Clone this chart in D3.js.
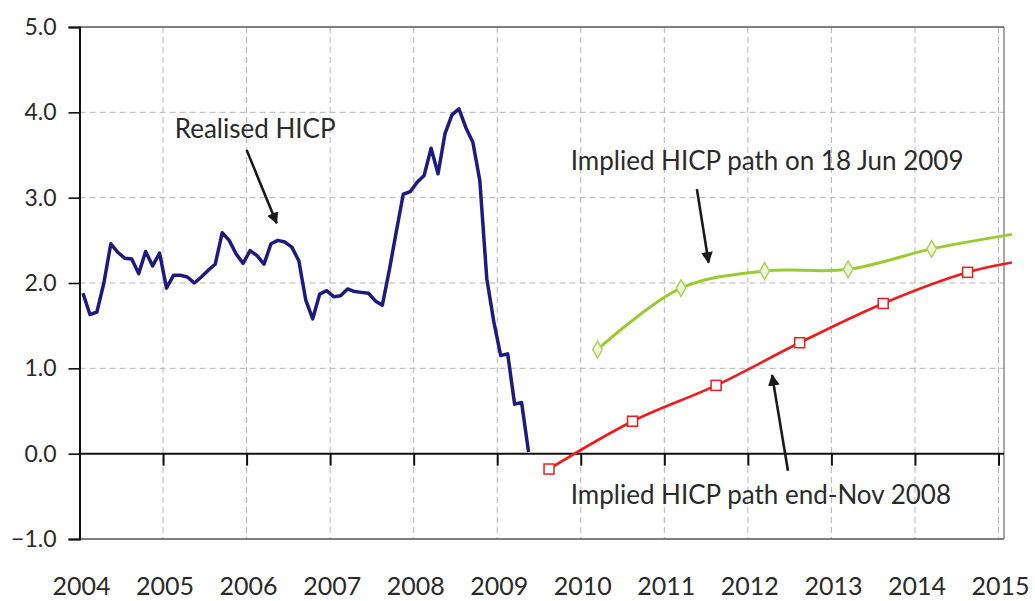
<!DOCTYPE html>
<html>
<head>
<meta charset="utf-8">
<script src="https://cdn.jsdelivr.net/npm/d3@7"></script>
<style>
  html, body { margin: 0; padding: 0; background: #fff; }
  svg { display: block; }
  text { font-family: Lato, "Open Sans", sans-serif; fill: #2a2a2a; }
</style>
</head>
<body>
<svg id="chart" width="1035" height="601"></svg>
<script>
// ---- Data ----
// Realised HICP, monthly from Jan 2004 (year-on-year %)
const realisedStart = 2004;
const realisedValues = [
  1.88, 1.63, 1.66, 2.00, 2.46, 2.36, 2.29, 2.28, 2.11, 2.37, 2.20, 2.35,
  1.94, 2.09, 2.09, 2.07, 2.00, 2.07, 2.15, 2.22, 2.59, 2.50, 2.34, 2.23,
  2.38, 2.32, 2.22, 2.46, 2.50, 2.48, 2.42, 2.26, 1.80, 1.58, 1.87, 1.91,
  1.84, 1.85, 1.93, 1.90, 1.89, 1.88, 1.79, 1.74, 2.15, 2.60, 3.04, 3.07,
  3.18, 3.26, 3.58, 3.28, 3.75, 3.97, 4.04, 3.82, 3.65, 3.20, 2.05, 1.55,
  1.15, 1.17, 0.58, 0.60, 0.02
];
// Implied HICP path on 18 Jun 2009
const june09Years  = [2010.2, 2011.2, 2012.2, 2013.2, 2014.2, 2015.16];
const june09Values = [1.22, 1.94, 2.14, 2.16, 2.40, 2.57];
// Implied HICP path end-Nov 2008
const nov08Years  = [2009.62, 2010.62, 2011.62, 2012.62, 2013.62, 2014.63, 2015.16];
const nov08Values = [-0.18, 0.38, 0.80, 1.30, 1.76, 2.125, 2.24];

const yearTicks = [2004, 2005, 2006, 2007, 2008, 2009, 2010, 2011, 2012, 2013, 2014, 2015];
const valueTicks = [-1, 0, 1, 2, 3, 4, 5];

// Annotations (data coordinates)
const annotations = [
  { text: "Realised HICP", tx: 2005.14, ty: 3.70, ax1: 2006.0, ay1: 3.56, ax2: 2006.36, ay2: 2.70 },
  { text: "Implied HICP path on 18 Jun 2009", tx: 2009.88, ty: 3.33, ax1: 2011.39, ay1: 3.10, ax2: 2011.53, ay2: 2.24 },
  { text: "Implied HICP path end-Nov 2008", tx: 2009.88, ty: -0.59, ax1: 2012.48, ay1: -0.20, ax2: 2012.29, ay2: 0.92 }
];

// ---- Chart ----
const svg = d3.select("#chart");
const x = d3.scaleLinear().domain([2004, 2015]).range([79.5, 998.5]);
const y = d3.scaleLinear().domain([-1, 5]).range([539, 27]);
const rightEdge = 1004;

// gridlines
const grid = svg.append("g");
grid.selectAll("line.vg").data(yearTicks.slice(1)).join("line")
  .attr("x1", d => x(d)).attr("x2", d => x(d))
  .attr("y1", y(5)).attr("y2", y(-1))
  .attr("stroke", "#b4b4b4").attr("stroke-width", 1).attr("stroke-dasharray", "6,4");
grid.selectAll("line.hg").data([1, 2, 3, 4]).join("line")
  .attr("x1", x(2004)).attr("x2", rightEdge)
  .attr("y1", d => y(d)).attr("y2", d => y(d))
  .attr("stroke", "#b4b4b4").attr("stroke-width", 1).attr("stroke-dasharray", "6,4");

// frame
svg.append("line").attr("x1", x(2004)).attr("x2", rightEdge).attr("y1", y(5)).attr("y2", y(5))
  .attr("stroke", "#555").attr("stroke-width", 1.3);
svg.append("line").attr("x1", x(2004)).attr("x2", rightEdge).attr("y1", y(-1)).attr("y2", y(-1))
  .attr("stroke", "#555").attr("stroke-width", 1.3);
svg.append("line").attr("x1", rightEdge).attr("x2", rightEdge).attr("y1", y(5)).attr("y2", y(-1))
  .attr("stroke", "#777").attr("stroke-width", 1.3);

// y axis
const yAxis = d3.axisLeft(y).tickValues(valueTicks).tickFormat(d3.format(".1f")).tickSize(11).tickPadding(12);
const gy = svg.append("g").attr("transform", `translate(${x(2004)},0)`).call(yAxis);
gy.select(".domain").attr("stroke", "#111").attr("stroke-width", 2);
gy.selectAll(".tick line").attr("stroke", "#111").attr("stroke-width", 1.6);
gy.selectAll(".tick text").attr("font-size", 23).attr("font-family", "Lato, sans-serif").attr("fill", "#2a2a2a");

// x axis along zero line
const xAxis = d3.axisBottom(x).tickValues(yearTicks.slice(1)).tickSize(12).tickFormat("");
const gx = svg.append("g").attr("transform", `translate(0,${y(0)})`).call(xAxis);
gx.select(".domain").remove();
gx.selectAll(".tick line").attr("stroke", "#111").attr("stroke-width", 2);
svg.append("line").attr("x1", x(2004)).attr("x2", rightEdge).attr("y1", y(0)).attr("y2", y(0))
  .attr("stroke", "#111").attr("stroke-width", 2);

// x labels at bottom
svg.append("g").selectAll("text").data(yearTicks).join("text")
  .attr("x", d => x(d) + 2).attr("y", 595)
  .attr("text-anchor", "middle").attr("font-size", 25)
  .text(d => d);

// realised line
const realised = realisedValues.map((v, i) => ({ x: realisedStart + (i + 0.5) / 12, v }));
svg.append("path").datum(realised)
  .attr("d", d3.line().x(d => x(d.x)).y(d => y(d.v)))
  .attr("fill", "none").attr("stroke", "#1c1c80").attr("stroke-width", 3.5)
  .attr("stroke-linejoin", "round");

// Nov 2008 path
const nov08 = nov08Years.map((t, i) => ({ x: t, v: nov08Values[i] }));
svg.append("path").datum(nov08)
  .attr("d", d3.line().curve(d3.curveCatmullRom).x(d => x(d.x)).y(d => y(d.v)))
  .attr("fill", "none").attr("stroke", "#ee1c1c").attr("stroke-width", 2.6);
svg.append("g").selectAll("rect").data(nov08.filter(d => d.x < 2015)).join("rect")
  .attr("x", d => x(d.x) - 5).attr("y", d => y(d.v) - 5)
  .attr("width", 10).attr("height", 10)
  .attr("fill", "#fff").attr("stroke", "#ee1c1c").attr("stroke-width", 1.5);

// Jun 2009 path
const jun09 = june09Years.map((t, i) => ({ x: t, v: june09Values[i] }));
svg.append("path").datum(jun09)
  .attr("d", d3.line().curve(d3.curveCatmullRom).x(d => x(d.x)).y(d => y(d.v)))
  .attr("fill", "none").attr("stroke", "#99cc33").attr("stroke-width", 3);
svg.append("g").selectAll("path").data(jun09.filter(d => d.x < 2015)).join("path")
  .attr("transform", d => `translate(${x(d.x)},${y(d.v)})`)
  .attr("d", d3.symbol().type(d3.symbolDiamond).size(80))
  .attr("fill", "#eef7d8").attr("stroke", "#a8d45c").attr("stroke-width", 1.5);

// annotations
svg.append("defs").append("marker")
  .attr("id", "arrow").attr("viewBox", "0 0 10 10").attr("refX", 9).attr("refY", 5)
  .attr("markerWidth", 4.5).attr("markerHeight", 4.5).attr("orient", "auto")
  .append("path").attr("d", "M0,0 L10,5 L0,10 Z").attr("fill", "#1a1a1a");
const ann = svg.append("g");
ann.selectAll("line").data(annotations).join("line")
  .attr("x1", d => x(d.ax1)).attr("y1", d => y(d.ay1))
  .attr("x2", d => x(d.ax2)).attr("y2", d => y(d.ay2))
  .attr("stroke", "#1a1a1a").attr("stroke-width", 2.6).attr("marker-end", "url(#arrow)");
ann.selectAll("text").data(annotations).join("text")
  .attr("x", d => x(d.tx)).attr("y", d => y(d.ty))
  .attr("font-size", 26).attr("fill", "#2e2e2e")
  .text(d => d.text);
</script>
</body>
</html>
